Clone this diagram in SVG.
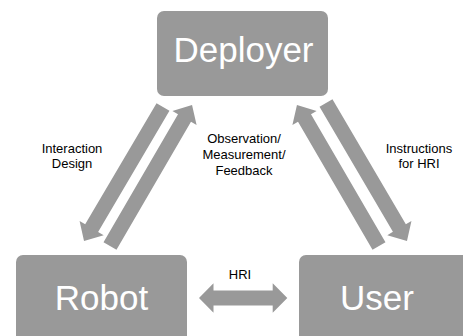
<svg xmlns="http://www.w3.org/2000/svg" width="463" height="336" viewBox="0 0 463 336">
<style>
.box{fill:#999999}
.big{font-family:"Liberation Sans",Arial,sans-serif;font-size:35px;fill:#ffffff;text-anchor:middle}
.lbl{font-family:"Liberation Sans",Arial,sans-serif;font-size:13px;fill:#000000;text-anchor:middle}
.arr{fill:#999999}
</style>
<rect width="463" height="336" fill="#ffffff"/>
<g id="connectors">
<polygon class="arr" transform="translate(163,107) rotate(120.5)" points="0,-7.5 140.6,-7.5 140.6,-14 155.6,0 140.6,14 140.6,7.5 0,7.5"/>
<polygon class="arr" transform="translate(110,246) rotate(-59.8)" points="0,-7.5 148.1,-7.5 148.1,-14 163.1,0 148.1,14 148.1,7.5 0,7.5"/>
<polygon class="arr" transform="translate(379,246) rotate(-120.2)" points="0,-7.5 148.1,-7.5 148.1,-14 163.1,0 148.1,14 148.1,7.5 0,7.5"/>
<polygon class="arr" transform="translate(326,103) rotate(59.6)" points="0,-7.5 145,-7.5 145,-14 160,0 145,14 145,7.5 0,7.5"/>
<polygon class="arr" points="199,298 213.5,283.3 213.5,290.5 272.7,290.5 272.7,283.3 287.3,298 272.7,312.7 272.7,305.5 213.5,305.5 213.5,312.7"/>
<text class="lbl" x="72" y="153">Interaction</text>
<text class="lbl" x="72" y="168">Design</text>
<text class="lbl" x="244" y="143">Observation/</text>
<text class="lbl" x="244" y="159">Measurement/</text>
<text class="lbl" x="244" y="175">Feedback</text>
<text class="lbl" x="419" y="153">Instructions</text>
<text class="lbl" x="419" y="168">for HRI</text>
<text class="lbl" x="240" y="279">HRI</text>
</g>
<g id="deployer">
<rect class="box" x="157" y="11" width="171" height="85" rx="7"/>
<text class="big" x="243.5" y="62">Deployer</text>
</g>
<g id="robot">
<rect class="box" x="16" y="255" width="171" height="95" rx="7"/>
<text class="big" x="101.5" y="310">Robot</text>
</g>
<g id="user">
<rect class="box" x="299" y="255" width="180" height="95" rx="7"/>
<text class="big" x="377" y="310">User</text>
</g>
</svg>
